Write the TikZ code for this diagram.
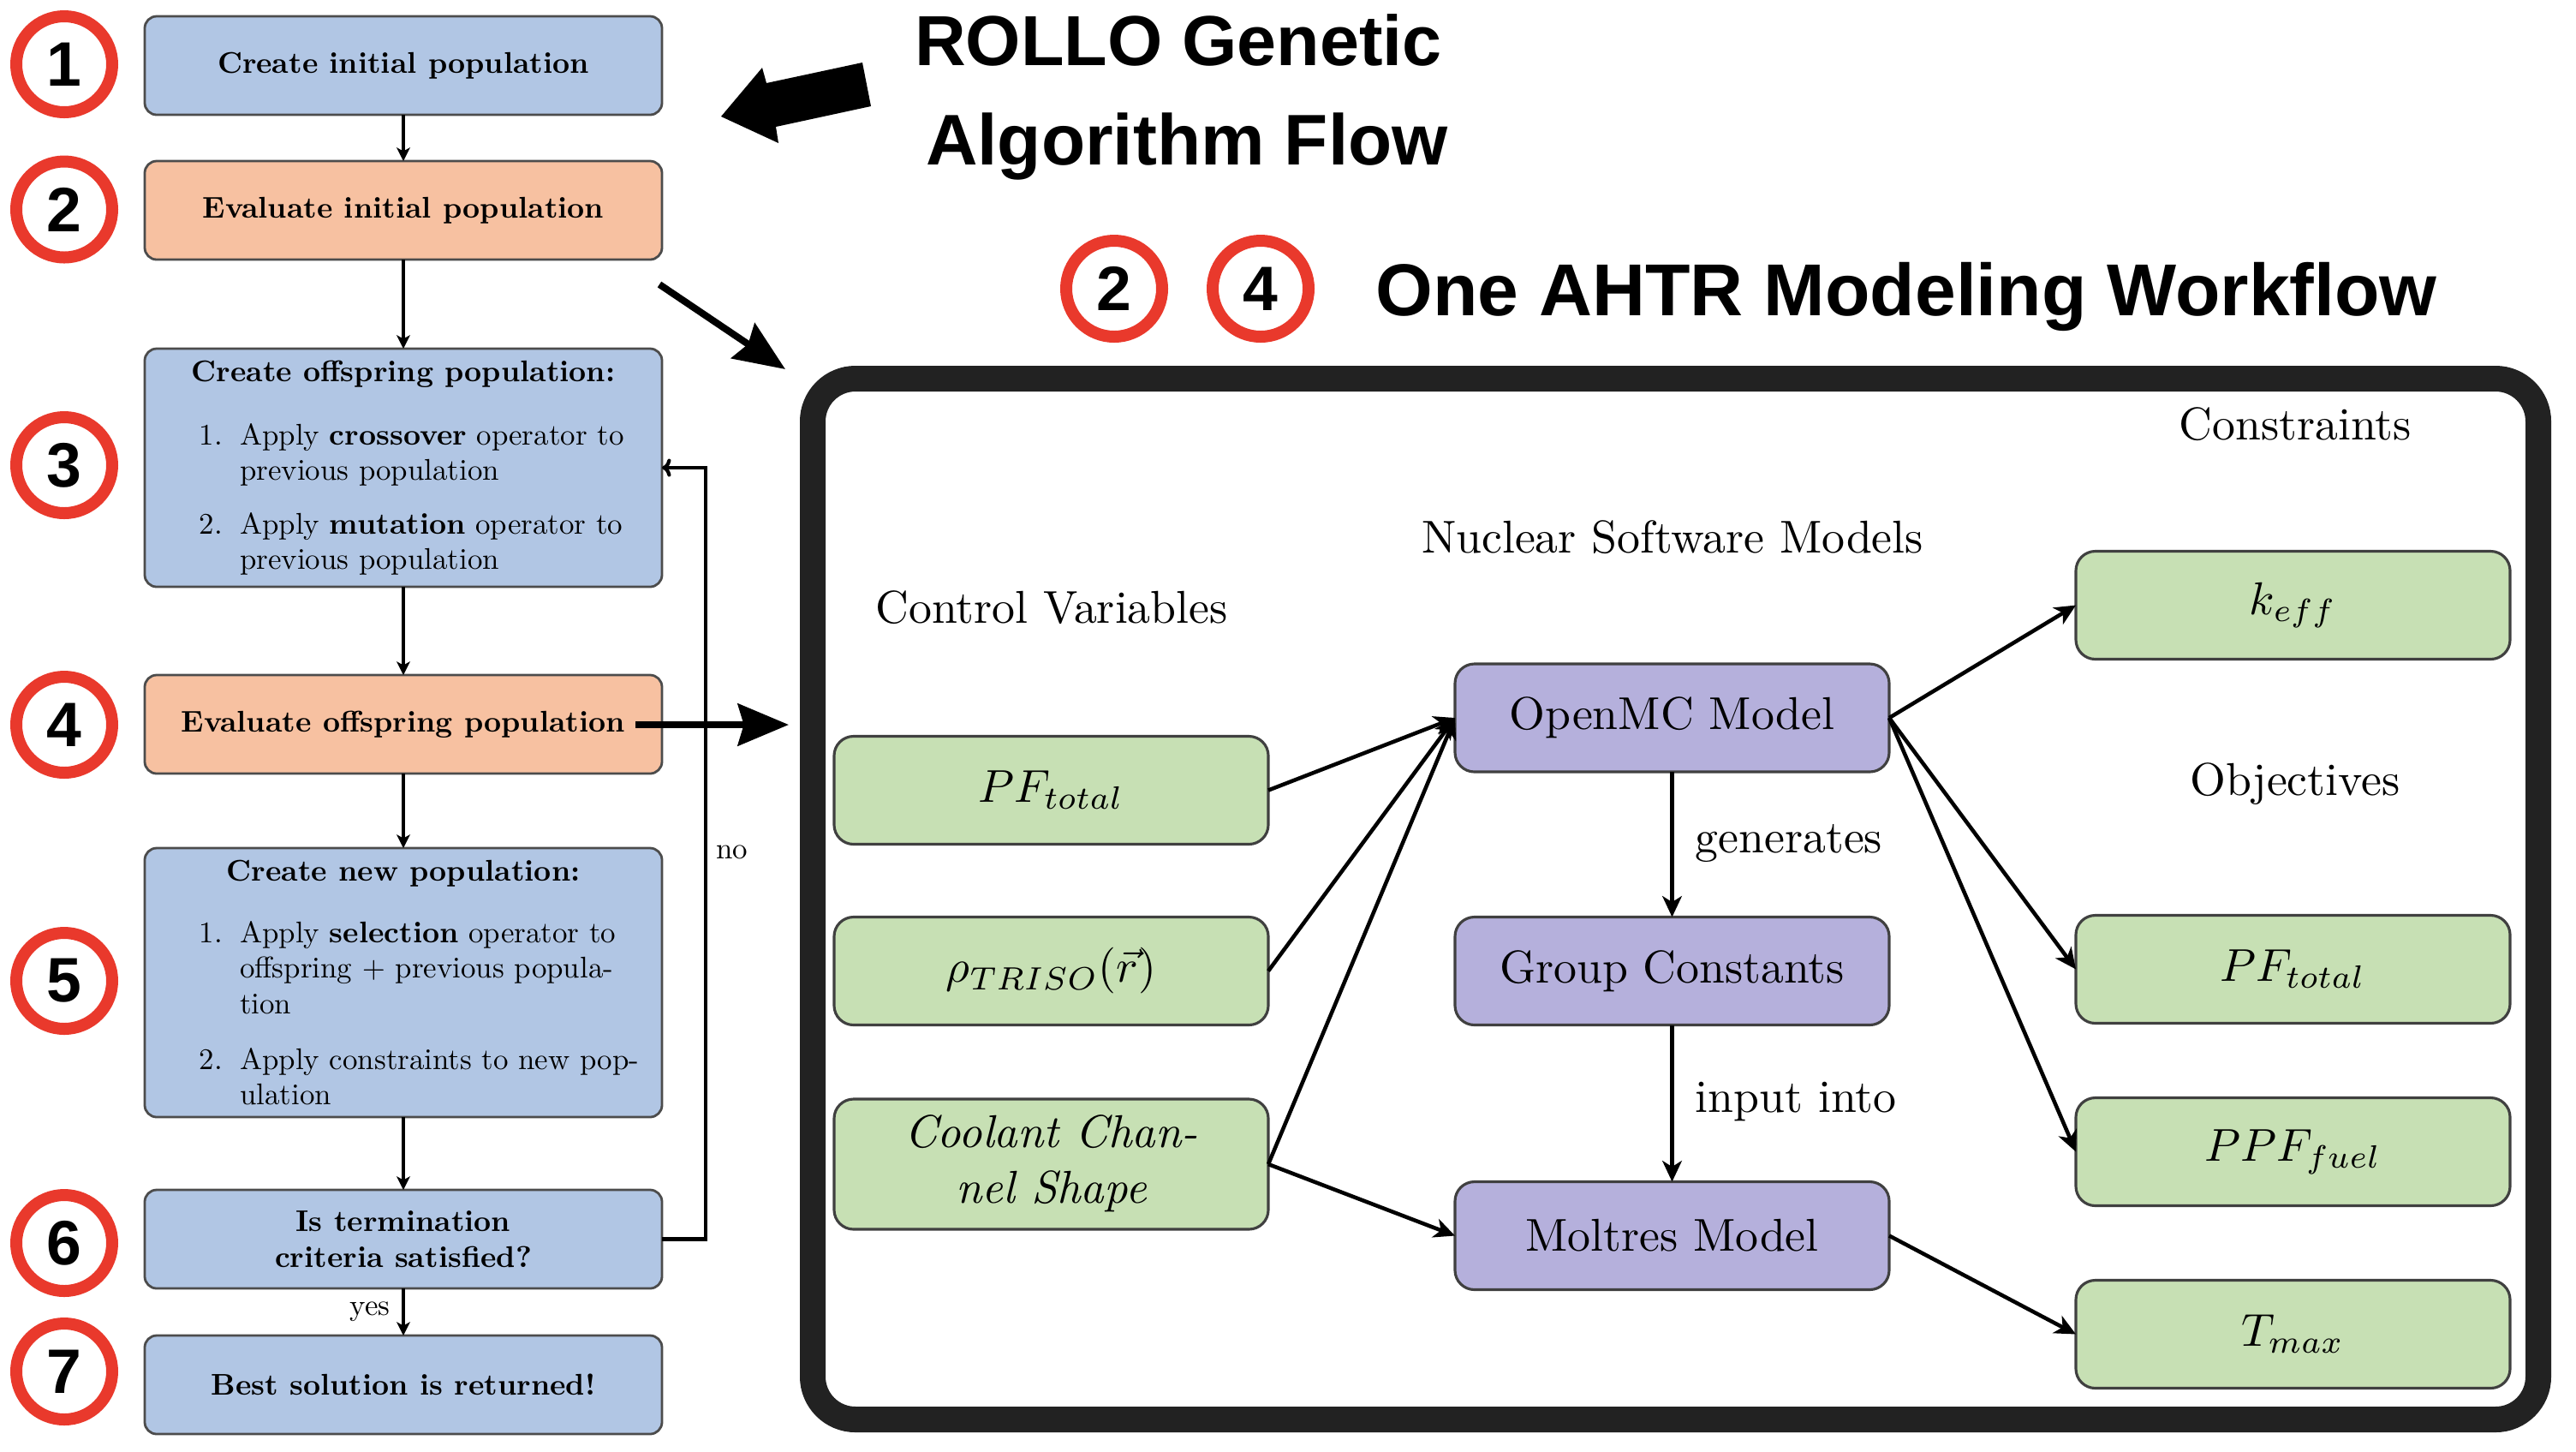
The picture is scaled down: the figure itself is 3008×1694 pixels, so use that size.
\RequirePackage{fix-cm}
\documentclass[tikz,border=0pt]{standalone}
\usepackage{fontspec}
\usepackage{amsmath}
\usepackage{graphicx}
\usetikzlibrary{arrows.meta}
\newfontfamily\headfont{Liberation Sans}
\definecolor{gablue}{RGB}{177,198,228}
\definecolor{gaorange}{RGB}{247,193,161}
\definecolor{ngreen}{RGB}{199,224,180}
\definecolor{npurple}{RGB}{181,176,220}
\definecolor{redc}{RGB}{233,57,44}
\definecolor{framec}{RGB}{34,34,34}
\newcommand{\gaitem}[2]{\makebox[13.6pt][l]{#1}\parbox[t]{140pt}{\fontsize{10}{12}\selectfont\raggedright #2}}
\newcommand{\wfs}[1]{\scalebox{1.54}{#1}}
\begin{document}
\begin{tikzpicture}[x=0.2865pt,y=-0.2865pt,
  gabox/.style={rectangle, rounded corners=4pt, draw=black!70, line width=0.8pt,
    minimum width=173.05pt, minimum height=32.95pt, inner sep=0pt, outer sep=0pt,
    font=\fontsize{10}{12}\selectfont\bfseries, align=center},
  gatext/.style={inner sep=0pt, font=\fontsize{10}{12}\selectfont},
  lbl/.style={inner sep=0pt, font=\fontsize{10}{12}\selectfont},
  nbox/.style={rectangle, rounded corners=6.5pt, draw=black!75, line width=0.9pt,
    minimum width=145.26pt, minimum height=36.1pt, inner sep=0pt, outer sep=0pt,
    font=\fontsize{10}{12}\selectfont, align=center},
  nlbl/.style={inner sep=0pt, font=\fontsize{10}{12}\selectfont},
  numc/.style={circle, draw=redc, line width=4.01pt, minimum size=32.09pt, inner sep=0pt,
    font=\headfont\bfseries\fontsize{21}{25}\selectfont},
  headt/.style={inner sep=0pt},
  gaarrow/.style={-{Stealth[length=4.5pt,width=4.5pt,inset=1.2pt]}, line width=1pt},
  fbarrow/.style={-{To[length=3pt,width=6pt]}, line width=1.2pt},
  narrow/.style={-{Stealth[length=7pt,width=6.5pt,inset=2pt]}, line width=1.3pt},
  bigarrow/.style={-{Stealth[length=17pt,width=14pt,inset=2pt]}, line width=2.3pt}]
\useasboundingbox (0,0) rectangle (3008,1694);

% frame of the workflow
\draw[framec, line width=8.6pt, rounded corners=14.3pt] (949,442) rectangle (2964,1657);

% left flow boxes
\node[gabox, fill=gablue] (b1) at (471,76.5) {Create initial population};
\node[gabox, fill=gaorange] (b2) at (471,245.5) {Evaluate initial population};
\node[gabox, fill=gablue, minimum height=79.65pt] (b3) at (471,546) {};
\node[gabox, fill=gaorange] (b4) at (471,845.5) {Evaluate offspring population};
\node[gabox, fill=gablue, minimum height=89.96pt] (b5) at (471,1147) {};
\node[gabox, fill=gablue] (b6) at (471,1446.5) {Is termination\\criteria satisfied?};
\node[gabox, fill=gablue] (b7) at (471,1616.5) {Best solution is returned!};

% texts of boxes 3 and 5
\node[gatext, anchor=base] (t3) at (471,445) {\textbf{Create offspring population:}};
\node[gatext, anchor=base west] (t3a) at (232,519) {\gaitem{1.}{Apply \textbf{crossover} operator to\\previous population}};
\node[gatext, anchor=base west] (t3b) at (232,623) {\gaitem{2.}{Apply \textbf{mutation} operator to\\previous population}};
\node[gatext, anchor=base] (t5) at (471,1028) {\textbf{Create new population:}};
\node[gatext, anchor=base west] (t5a) at (232,1100) {\gaitem{1.}{Apply \textbf{selection} operator to\\offspring $+$ previous popula-\\tion}};
\node[gatext, anchor=base west] (t5b) at (232,1248) {\gaitem{2.}{Apply constraints to new pop-\\ulation}};

% flow arrows
\foreach \a/\b in {b1/b2,b2/b3,b3/b4,b4/b5,b5/b6} \draw[gaarrow] (\a) -- (\b);
\draw[gaarrow] (b6) -- node[lbl, left=4pt] (yes) {yes} (b7);
\draw[fbarrow] (b6.east) -- ++(51,0) |- (b3.east);
\node[lbl] (no) at (855,995) {no};

% number circles
\foreach \n/\yy in {1/75,2/244.5,3/543,4/846,5/1145,6/1451,7/1601}
  \node[numc] (c\n) at (75,\yy) {\n};
\node[numc] (h2) at (1301,337) {2};
\node[numc] (h4) at (1472,337) {4};

% titles
\node[headt, font=\headfont\bfseries\fontsize{23.7}{30}\selectfont, anchor=base] (title1) at (1376,76) {ROLLO Genetic};
\node[headt, font=\headfont\bfseries\fontsize{24}{30}\selectfont, anchor=base] (title2) at (1386,192) {Algorithm Flow};
\node[headt, font=\headfont\bfseries\fontsize{24.6}{30}\selectfont, anchor=base] (title3) at (2226,368) {One AHTR Modeling Workflow};

% big arrow pointing to the flow
\fill[black] (842,136) -- (890,79) -- (895,97) -- (1007,73) -- (1017,124) -- (906,148) -- (909,167) -- cycle;

% thick arrows into the workflow
\coordinate (a2s) at (770,332);
\coordinate (a2e) at (917,431);
\draw[bigarrow] (a2s) -- (a2e);
\coordinate (a4s) at (742,846);
\coordinate (a4e) at (921,846);
\draw[bigarrow] (a4s) -- (a4e);

% workflow labels
\node[nlbl] (lcv) at (1228,709) {\wfs{Control Variables}};
\node[nlbl] (lnsm) at (1953,627) {\wfs{Nuclear Software Models}};
\node[nlbl] (lcon) at (2680,495) {\wfs{Constraints}};
\node[nlbl] (lobj) at (2680,915) {\wfs{Objectives}};

% workflow boxes
\node[nbox, fill=ngreen] (pf1) at (1227.5,922.5) {\wfs{$PF_{total}$}};
\node[nbox, fill=ngreen] (rho) at (1227.5,1133.5) {\wfs{$\rho_{TRISO}(\vec{r})$}};
\node[nbox, fill=ngreen, minimum height=43.55pt] (cool) at (1227.5,1359) {\wfs{\begin{tabular}{@{}c@{}}\itshape Coolant Chan-\\\itshape nel Shape\end{tabular}}};
\node[nbox, fill=npurple] (omc) at (1952.5,838) {\wfs{OpenMC Model}};
\node[nbox, fill=npurple] (gc) at (1952.5,1133.5) {\wfs{Group Constants}};
\node[nbox, fill=npurple] (mol) at (1952.5,1442.5) {\wfs{Moltres Model}};
\node[nbox, fill=ngreen] (keff) at (2677.5,706.5) {\wfs{$k_{eff}$}};
\node[nbox, fill=ngreen] (pf2) at (2677.5,1131.5) {\wfs{$PF_{total}$}};
\node[nbox, fill=ngreen] (ppf) at (2677.5,1344.5) {\wfs{$PPF_{fuel}$}};
\node[nbox, fill=ngreen] (tmax) at (2677.5,1557.5) {\wfs{$T_{max}$}};

% workflow arrows
\draw[narrow] (pf1.east) -- (omc.west);
\draw[narrow] (rho.east) -- (omc.west);
\draw[narrow] (cool.east) -- (omc.west);
\draw[narrow] (cool.east) -- (mol.west);
\draw[narrow] (omc) -- (gc);
\draw[narrow] (gc) -- (mol);
\node[nlbl, anchor=base west] (lgen) at (1979,995) {\wfs{generates}};
\node[nlbl, anchor=base west] (linp) at (1979,1298) {\wfs{input into}};
\draw[narrow] (omc.east) -- (keff.west);
\draw[narrow] (omc.east) -- (pf2.west);
\draw[narrow] (omc.east) -- (ppf.west);
\draw[narrow] (mol.east) -- (tmax.west);
\end{tikzpicture}
\end{document}
